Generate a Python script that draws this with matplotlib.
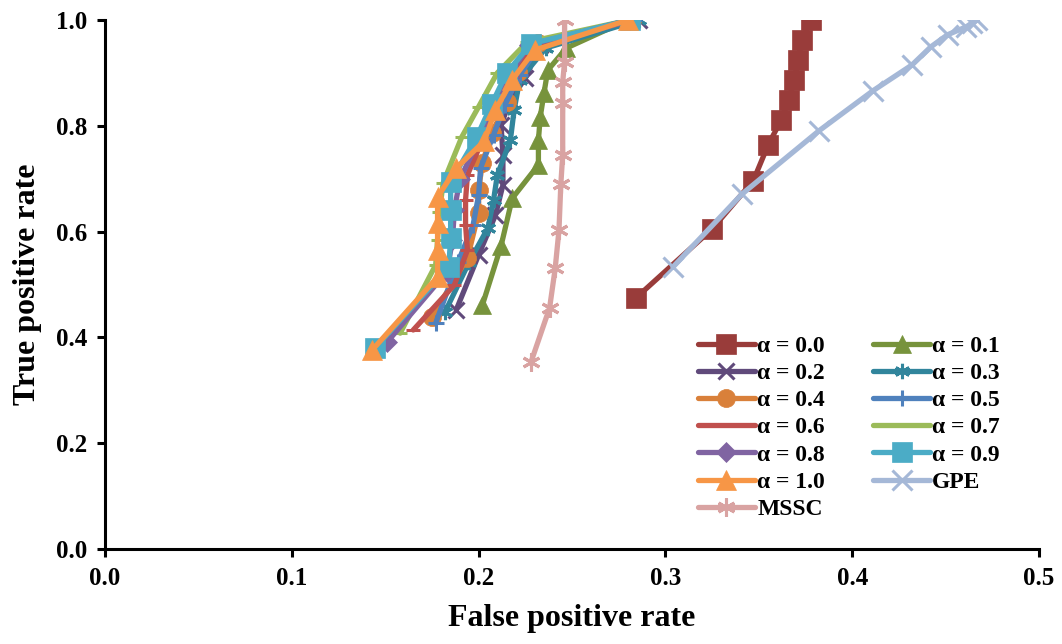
import matplotlib
matplotlib.use("Agg")
import matplotlib.pyplot as plt
from matplotlib.ticker import FormatStrFormatter

# ROC points (false positive rate, true positive rate)
fpr_a00 = [0.284, 0.325, 0.347, 0.355, 0.362, 0.366, 0.369, 0.371, 0.373, 0.378]
tpr_a00 = [0.474, 0.605, 0.696, 0.764, 0.811, 0.849, 0.887, 0.924, 0.962, 1.000]
fpr_a01 = [0.202, 0.212, 0.218, 0.232, 0.232, 0.233, 0.235, 0.237, 0.247, 0.280]
tpr_a01 = [0.461, 0.573, 0.663, 0.726, 0.773, 0.817, 0.862, 0.905, 0.947, 1.000]
fpr_a02 = [0.188, 0.200, 0.209, 0.213, 0.213, 0.212, 0.217, 0.225, 0.233, 0.286]
tpr_a02 = [0.452, 0.556, 0.631, 0.688, 0.745, 0.802, 0.849, 0.890, 0.953, 1.000]
fpr_a03 = [0.182, 0.195, 0.205, 0.208, 0.210, 0.217, 0.219, 0.222, 0.236, 0.286]
tpr_a03 = [0.448, 0.543, 0.607, 0.660, 0.707, 0.773, 0.830, 0.887, 0.947, 1.000]
fpr_a04 = [0.175, 0.194, 0.200, 0.200, 0.202, 0.207, 0.215, 0.221, 0.232, 0.282]
tpr_a04 = [0.439, 0.550, 0.635, 0.679, 0.730, 0.786, 0.845, 0.902, 0.956, 1.000]
fpr_a05 = [0.177, 0.189, 0.197, 0.200, 0.201, 0.208, 0.214, 0.222, 0.233, 0.283]
tpr_a05 = [0.427, 0.543, 0.612, 0.669, 0.720, 0.783, 0.839, 0.896, 0.953, 1.000]
fpr_a06 = [0.165, 0.187, 0.194, 0.193, 0.193, 0.194, 0.202, 0.209, 0.218, 0.229, 0.282]
tpr_a06 = [0.414, 0.499, 0.565, 0.612, 0.660, 0.707, 0.773, 0.839, 0.892, 0.949, 1.000]
fpr_a07 = [0.158, 0.177, 0.178, 0.179, 0.181, 0.191, 0.200, 0.210, 0.226, 0.281]
tpr_a07 = [0.408, 0.537, 0.584, 0.637, 0.692, 0.779, 0.836, 0.900, 0.958, 1.000]
fpr_a08 = [0.151, 0.183, 0.186, 0.187, 0.190, 0.200, 0.207, 0.216, 0.227, 0.281]
tpr_a08 = [0.391, 0.524, 0.584, 0.641, 0.699, 0.773, 0.832, 0.892, 0.953, 1.000]
fpr_a09 = [0.1445, 0.184, 0.185, 0.185, 0.185, 0.199, 0.207, 0.215, 0.228, 0.281]
tpr_a09 = [0.380, 0.533, 0.588, 0.641, 0.694, 0.779, 0.841, 0.900, 0.955, 1.000]
fpr_a10 = [0.143, 0.178, 0.178, 0.178, 0.178, 0.188, 0.203, 0.209, 0.218, 0.230, 0.280]
tpr_a10 = [0.376, 0.514, 0.565, 0.616, 0.665, 0.720, 0.771, 0.830, 0.887, 0.943, 1.000]
fpr_gpe = [0.304, 0.341, 0.382, 0.411, 0.432, 0.442, 0.451, 0.461, 0.464, 0.467]
tpr_gpe = [0.533, 0.671, 0.790, 0.866, 0.915, 0.949, 0.972, 0.987, 0.994, 1.000]
fpr_mssc = [0.228, 0.238, 0.241, 0.243, 0.244, 0.245, 0.245, 0.245, 0.246, 0.246]
tpr_mssc = [0.353, 0.456, 0.531, 0.603, 0.690, 0.745, 0.843, 0.883, 0.921, 1.000]

labels = ["α = 0.0", "α = 0.1", "α = 0.2", "α = 0.3", "α = 0.4", "α = 0.5",
          "α = 0.6", "α = 0.7", "α = 0.8", "α = 0.9", "α = 1.0", "GPE", "MSSC"]
xs = [fpr_a00, fpr_a01, fpr_a02, fpr_a03, fpr_a04, fpr_a05, fpr_a06,
      fpr_a07, fpr_a08, fpr_a09, fpr_a10, fpr_gpe, fpr_mssc]
ys = [tpr_a00, tpr_a01, tpr_a02, tpr_a03, tpr_a04, tpr_a05, tpr_a06,
      tpr_a07, tpr_a08, tpr_a09, tpr_a10, tpr_gpe, tpr_mssc]
colors = ["#993C3A", "#77933C", "#604A7B", "#31859C", "#D9803A", "#4F81BD",
          "#C0504D", "#9BBB59", "#8064A2", "#4BACC6", "#F79646", "#A5B8D7", "#D9A3A2"]
markers = ["s", "^", "x", (6, 2, 0), "o", "+", "_", "_", "D", "s", "^", "x", (6, 2, 0)]
msizes = [15, 13, 11, 11, 13, 12, 10, 10, 10, 14, 14, 14, 13]

plt.rcParams["font.family"] = ["Liberation Serif", "DejaVu Serif"]
plt.rcParams["font.weight"] = "bold"

fig = plt.figure(figsize=(10.62, 6.44), dpi=100)
ax = fig.add_axes([0.0989, 0.1475, 0.8795, 0.8215])

handles = []
for x, y, c, m, ms, lab in zip(xs, ys, colors, markers, msizes, labels):
    thin = m in ("x", "+", "_", (6, 2, 0))
    h, = ax.plot(x, y, color=c, lw=3.8, marker=m, ms=ms, mfc=c, mec=c,
                 mew=2.2 if thin else 0.5, label=lab, solid_capstyle="round")
    handles.append(h)

ax.set_xlim(0, 0.5)
ax.set_ylim(0, 1.0)
ax.set_xticks([0, 0.1, 0.2, 0.3, 0.4, 0.5])
ax.set_yticks([0, 0.2, 0.4, 0.6, 0.8, 1.0])
ax.xaxis.set_major_formatter(FormatStrFormatter("%.1f"))
ax.yaxis.set_major_formatter(FormatStrFormatter("%.1f"))
for s in ("top", "right"):
    ax.spines[s].set_visible(False)
for s in ("left", "bottom"):
    ax.spines[s].set_linewidth(2.2)
ax.tick_params(width=2.2, length=6, labelsize=18, direction="out", pad=7)
for t in ax.get_xticklabels() + ax.get_yticklabels():
    t.set_fontweight("bold")
ax.set_xlabel("False positive rate", fontsize=23, fontweight="bold", labelpad=10)
ax.set_ylabel("True positive rate", fontsize=23, fontweight="bold", labelpad=10)

order = [0, 2, 4, 6, 8, 10, 12, 1, 3, 5, 7, 9, 11]
ax.legend([handles[i] for i in order], [labels[i] for i in order], ncol=2,
          loc="upper left", bbox_to_anchor=(0.635, 0.404), frameon=False,
          prop={"size": 17, "weight": "bold"}, handlelength=2.4,
          handletextpad=0.1, columnspacing=2.05, labelspacing=0.24,
          borderpad=0, borderaxespad=0)

fig.savefig("out.png", dpi=100)
